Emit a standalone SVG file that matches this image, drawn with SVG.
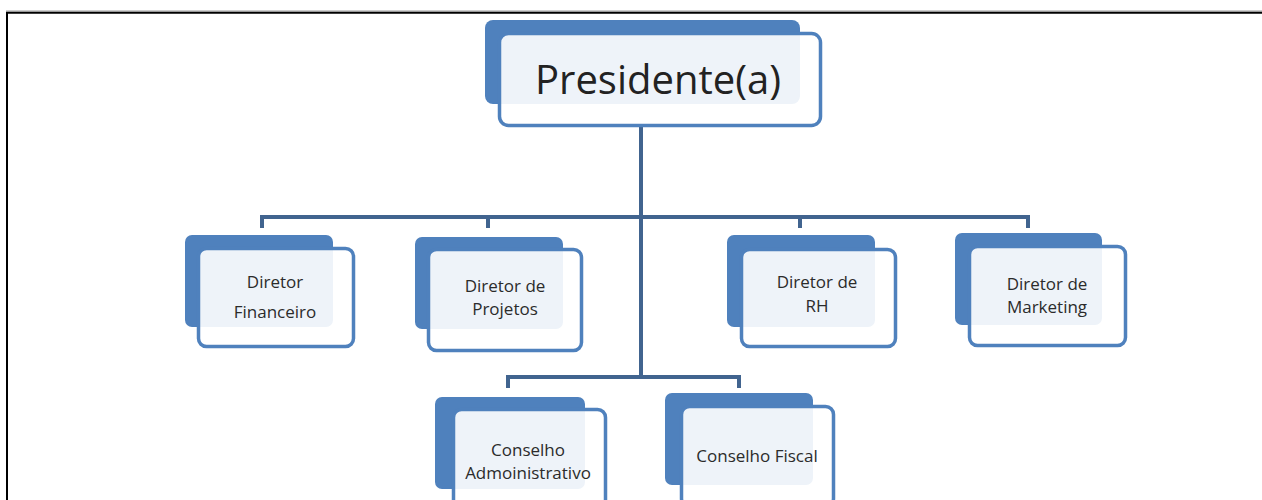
<svg xmlns="http://www.w3.org/2000/svg" width="1262" height="500" viewBox="0 0 1262 500">
<style>
.back{fill:#4f81bd}
.front{fill:#ffffff;fill-opacity:0.9;stroke:#4f81bd;stroke-width:3.5}
.lbl{font-family:"Open Sans","Liberation Sans",sans-serif;font-size:17px;fill:#2b2b2b;text-anchor:middle}
.big{font-family:"Open Sans","Liberation Sans",sans-serif;font-size:40px;fill:#222222;text-anchor:middle}
.conn{fill:none;stroke:#41648f;stroke-width:4}
</style>
<rect width="1262" height="500" fill="#ffffff"/>
<g id="frame">
<line x1="6" y1="11" x2="1262" y2="11" stroke="#9a9a9a" stroke-width="1"/>
<line x1="6" y1="12.8" x2="1262" y2="12.8" stroke="#000000" stroke-width="2"/>
<line x1="7" y1="12" x2="7" y2="500" stroke="#000000" stroke-width="2"/>
</g>
<g id="connectors">
<path class="conn" d="M641 127 V378"/>
<path class="conn" d="M262 228 V217 H1028 V228"/>
<path class="conn" d="M488 217 V228"/>
<path class="conn" d="M800 217 V228"/>
<path class="conn" d="M508 388 V377 H739 V388"/>
</g>
<g id="presidente">
<rect class="back" x="485" y="20" width="315" height="84" rx="8"/>
<rect class="front" x="499.5" y="33.5" width="321" height="92" rx="9"/>
<text class="big" x="658" y="94">Presidente(a)</text>
</g>
<g id="diretor-financeiro">
<rect class="back" x="185" y="235" width="148" height="92" rx="7"/>
<rect class="front" x="198.5" y="248.5" width="155" height="98" rx="8"/>
<text class="lbl" x="275" y="288">Diretor</text>
<text class="lbl" x="275" y="318">Financeiro</text>
</g>
<g id="diretor-projetos">
<rect class="back" x="415" y="237" width="148" height="92" rx="7"/>
<rect class="front" x="428.5" y="249.5" width="153" height="101" rx="8"/>
<text class="lbl" x="505" y="292">Diretor de</text>
<text class="lbl" x="505" y="315">Projetos</text>
</g>
<g id="diretor-rh">
<rect class="back" x="727" y="235" width="148" height="92" rx="7"/>
<rect class="front" x="741.5" y="249.5" width="154" height="97" rx="8"/>
<text class="lbl" x="817" y="288">Diretor de</text>
<text class="lbl" x="817" y="312">RH</text>
</g>
<g id="diretor-marketing">
<rect class="back" x="955" y="233" width="147" height="92" rx="7"/>
<rect class="front" x="969.5" y="246.5" width="156" height="99" rx="8"/>
<text class="lbl" x="1047" y="290">Diretor de</text>
<text class="lbl" x="1047" y="313">Marketing</text>
</g>
<g id="conselho-administrativo">
<rect class="back" x="435" y="397" width="150" height="92" rx="7"/>
<rect class="front" x="453.5" y="409.5" width="152" height="100" rx="8"/>
<text class="lbl" x="528" y="456">Conselho</text>
<text class="lbl" x="528" y="479">Admoinistrativo</text>
</g>
<g id="conselho-fiscal">
<rect class="back" x="665" y="393" width="148" height="92" rx="7"/>
<rect class="front" x="681.5" y="406.5" width="152" height="100" rx="8"/>
<text class="lbl" x="757" y="462">Conselho Fiscal</text>
</g>
</svg>
